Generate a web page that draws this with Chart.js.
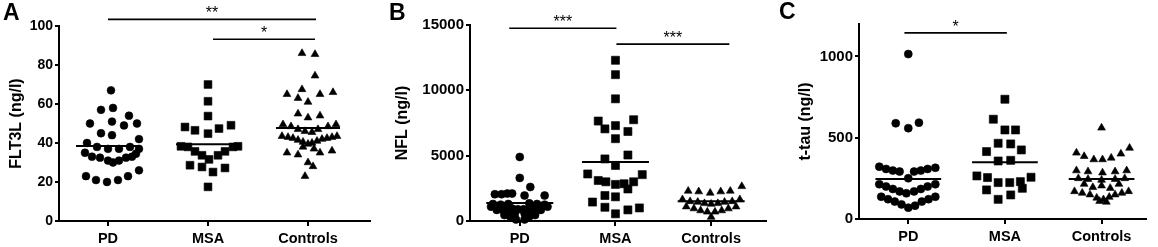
<!DOCTYPE html>
<html><head><meta charset="utf-8">
<script src="https://cdn.jsdelivr.net/npm/chart.js@4.4.0/dist/chart.umd.min.js"></script>
<style>
html,body{margin:0;padding:0;background:#fff;}
#wrap{position:relative;width:1158px;height:247px;overflow:hidden;}
.p{position:absolute;top:0;height:247px;}
canvas{display:block;}
</style></head><body>
<div id="wrap">
<div class="p" style="left:0;width:386px"><canvas id="cA" width="386" height="247"></canvas></div>
<div class="p" style="left:386px;width:386px"><canvas id="cB" width="386" height="247"></canvas></div>
<div class="p" style="left:772px;width:386px"><canvas id="cC" width="386" height="247"></canvas></div>
</div>
<script>
// ---------- data ----------
const categories = ['PD', 'MSA', 'Controls'];

// Panel A: FLT3L (ng/l)
const flt3lPD = [67,57,58,50,51,54,49,50,45,44,42,40, 38,37,37,38,37,35, 33,32.5,31,30,31,32.5,33,34.5, 23,21,20,21,23,26];
const flt3lPDJitter = [0.03,-0.07,0.05,-0.18,0.04,0.21,0.16,0.29,-0.07,0.04,0.31,-0.21, -0.11,0,0.11,0.22,0.31,-0.23, -0.16,-0.08,0,0.05,0.11,0.18,0.24,0.28, -0.22,-0.12,-0.01,0.1,0.2,0.31];
const flt3lMSA = [70,61.4,53.8,48.2,46.5,44.8,47.4,49.1, 38.3,38,35.7,33.7,31.6,33.7,35.7,38,38.3, 28.6,27.7,25.1,27.2,17.5];
const flt3lMSAJitter = [0,0,0,-0.23,-0.13,0,0.11,0.23, -0.27,-0.2,-0.13,-0.06,0.01,0.1,0.17,0.25,0.3, -0.18,-0.06,0.05,0.17,0];
const flt3lCtrl = [86,85.5,74.5,65,67.5,63,65,66,61,55,53,54, 49.5,48.5,47,46,45.5,47,48.5,49.5, 43.5,43,42.5,41.5,40.5,39.5,40,41,42,42.5,43,43.5, 35,34,30,35,36,28,23,38,37];
const flt3lCtrlJitter = [-0.06,0.07,0.07,-0.21,-0.06,-0.1,0.12,0.25,0,-0.1,0,0.12, -0.25,-0.17,-0.1,-0.03,0.04,0.1,0.2,0.28, -0.26,-0.2,-0.15,-0.1,-0.05,0,0.04,0.09,0.14,0.19,0.24,0.29, -0.21,-0.1,0,0.12,0.24,0.05,-0.03,-0.05,0.06];
const flt3lMeans = [38.5, 39.3, 47.7];
const flt3lTicks = [0, 20, 40, 60, 80, 100];

// Panel B: NFL (ng/l)
const nflPD = [4900,3300,2600,2050,2050,2100,2100,1950,1950, 1300,1250,1300,1350,1300,1250, 1100,1050,1000,950,900,900,950,1000,1050,1100, 850,800,750,750,800,850, 600,600,350,350,120,120,450,450];
const nflPDJitter = [0,0,0.11,-0.26,-0.19,-0.13,-0.08,0.05,0.26, -0.28,-0.2,-0.12,0.1,0.18,0.26, -0.3,-0.22,-0.15,-0.08,-0.02,0.04,0.1,0.16,0.22,0.29, -0.24,-0.17,-0.11,0.1,0.16,0.22, -0.05,0.05,-0.1,0.1,-0.04,0.05,-0.16,0.16];
const nflMSA = [12300,11200,9350,7650,7050,7300,7750,6850,6300,4750,5050,4250,3600,3100,3000,2800,2850,2450,3000,3550,1950,1850,1450,1050,550,850,1000];
const nflMSAJitter = [0,0,0,-0.18,-0.11,0,0.19,0.13,0,-0.11,0.13,0,-0.29,-0.18,-0.1,0,0.09,0.13,0.19,0.28,-0.11,0,-0.24,-0.11,0,0.13,0.25];
const nflCtrl = [2300,2250,2150,2250,2300,2650, 1650,1500,1450,1350,1300,1350,1450,1500,1650, 1100,950,800,700,700,800,950,1100, 300];
const nflCtrlJitter = [-0.24,-0.13,-0.01,0.1,0.2,0.32, -0.3,-0.22,-0.14,-0.07,0,0.07,0.14,0.22,0.3, -0.26,-0.18,-0.11,-0.04,0.04,0.11,0.18,0.26, 0];
const nflMeans = [1377, 4514, 1507];
const nflTicks = [0, 5000, 10000, 15000];

// Panel C: t-tau (ng/l)
const ttauPD = [1015,589,559,593, 322,308,298,292,292,298,308,315, 251, 214,200,185,170,158,170,185,200,214, 137,122,107,90,70,82,107,122,137];
const ttauPDJitter = [0,-0.13,0,0.11, -0.3,-0.23,-0.16,-0.09,0.06,0.13,0.2,0.28, 0, -0.3,-0.23,-0.16,-0.09,-0.02,0.06,0.13,0.2,0.28, -0.28,-0.21,-0.14,-0.07,0,0.07,0.14,0.21,0.28];
const ttauMSA = [737,614,548,548,466,462,415,425,357,361,265,255,224,224,230,257,189,179,148,121];
const ttauMSAJitter = [0,-0.12,0,0.11,-0.07,0.06,-0.19,0.17,-0.07,0.06,-0.29,-0.18,-0.07,0.05,0.16,0.27,0.18,-0.19,0.06,-0.07];
const ttauCtrl = [561, 407,386,366,366,376,401,437, 298,292,285,292,298, 250,245,240,245,250, 215,195,205,190,215, 170,160,150,130,120,135,150,160,170, 110,105];
const ttauCtrlJitter = [0, -0.26,-0.18,-0.08,0.01,0.1,0.2,0.29, -0.26,-0.14,0.01,0.14,0.26, -0.24,-0.14,0,0.14,0.24, -0.18,-0.09,0,0.09,0.18, -0.28,-0.2,-0.12,-0.05,0.02,0.08,0.14,0.21,0.28, -0.02,0.05];
const ttauMeans = [246, 350, 246];
const ttauTicks = [0, 500, 1000];

// significance comparisons: [fromCategory, toCategory, yValue, label]
const sigA = [[0, 2.08, 103.4, '**'], [1.05, 2.07, 93.2, '*']];
const sigB = [[-0.11, 1.01, 14750, '***'], [1.01, 2.19, 13540, '***']];
const sigC = [[-0.04, 1.02, 1146, '*']];

// ---------- rendering ----------
const FAM = '"Liberation Sans", Arial, Helvetica, sans-serif';
const STYLES = ['circle', 'rect', 'triangle'];

function makePanel(id, cfg) {
  const datasets = [];
  cfg.groups.forEach((g, i) => {
    datasets.push({
      type: 'scatter',
      data: g.values.map((v, k) => ({x: i + g.jitter[k], y: v})),
      pointStyle: STYLES[i],
      pointRadius: cfg.radius[i],
      backgroundColor: '#000',
      borderColor: '#000',
      borderWidth: 0.6,
      clip: false
    });
  });
  cfg.means.forEach((m, i) => {
    datasets.push({
      type: 'line',
      data: [{x: i - cfg.meanHalf, y: m}, {x: i + cfg.meanHalf, y: m}],
      borderColor: '#000',
      borderWidth: 2,
      pointRadius: 0,
      fill: false
    });
  });
  const sigPlugin = {
    id: 'sig' + id,
    afterDatasetsDraw(chart) {
      const ctx = chart.ctx, xs = chart.scales.x, ys = chart.scales.y;
      ctx.save();
      ctx.strokeStyle = '#000';
      ctx.fillStyle = '#000';
      ctx.lineWidth = 1.7;
      ctx.font = '16px ' + FAM;
      ctx.textAlign = 'center';
      ctx.textBaseline = 'alphabetic';
      cfg.sig.forEach(([a, b, v, lab]) => {
        const x1 = xs.getPixelForValue(a), x2 = xs.getPixelForValue(b), y = ys.getPixelForValue(v);
        ctx.beginPath();
        ctx.moveTo(x1, y);
        ctx.lineTo(x2, y);
        ctx.stroke();
        ctx.fillText(lab, (x1 + x2) / 2, y - 1);
      });
      ctx.restore();
    }
  };
  return new Chart(document.getElementById(id), {
    data: {datasets},
    plugins: [sigPlugin],
    options: {
      responsive: false,
      animation: false,
      events: [],
      layout: {padding: {left: cfg.padLeft, right: cfg.padRight, top: cfg.padTop, bottom: 0}},
      plugins: {
        legend: {display: false},
        tooltip: {enabled: false},
        title: {
          display: true, text: cfg.letter, align: 'start', color: '#000',
          font: {family: FAM, size: 23, weight: 'bold', lineHeight: 1},
          padding: {top: 0, bottom: cfg.titleGap}
        }
      },
      scales: {
        x: {
          type: 'linear', min: cfg.xMin, max: cfg.xMax,
          afterBuildTicks: s => { s.ticks = categories.map((c, i) => ({value: i})); },
          afterFit: s => { s.height = cfg.xH; },
          ticks: {
            callback: v => categories[v], color: '#000', padding: 4, maxRotation: 0,
            font: {family: FAM, size: 14.5, weight: 'bold'}
          },
          grid: {display: true, drawOnChartArea: false, drawTicks: true, tickLength: 5, color: '#000', lineWidth: 2},
          border: {display: true, color: '#000', width: 2}
        },
        y: {
          type: 'linear', min: 0, max: cfg.yMax,
          afterBuildTicks: s => { s.ticks = cfg.ticks.map(v => ({value: v})); },
          afterFit: s => { s.width = cfg.yW; },
          ticks: {
            callback: v => String(v),
            color: '#000', padding: 2, font: {family: FAM, size: cfg.tickSize, weight: 'bold'}
          },
          grid: {display: true, drawOnChartArea: false, drawTicks: true, tickLength: 4, color: '#000', lineWidth: 2},
          border: {display: true, color: '#000', width: 2},
          title: {
            display: true, text: cfg.yTitle, color: '#000',
            font: {family: FAM, size: 16, weight: 'bold'},
            padding: {top: cfg.titlePad, bottom: 0}
          }
        }
      }
    }
  });
}

makePanel('cA', {
  letter: 'A', yTitle: 'FLT3L (ng/l)', yMax: 100, ticks: flt3lTicks, tickSize: 14,
  groups: [{values: flt3lPD, jitter: flt3lPDJitter}, {values: flt3lMSA, jitter: flt3lMSAJitter}, {values: flt3lCtrl, jitter: flt3lCtrlJitter}],
  means: flt3lMeans, sig: sigA, radius: [3.9, 5.5, 4.5], meanHalf: 0.32,
  xMin: -0.49, xMax: 2.62, padLeft: 3, yW: 56, padRight: 16, padTop: 2, titleGap: 1, xH: 26, titlePad: 4.4
});
makePanel('cB', {
  letter: 'B', yTitle: 'NFL (ng/l)', yMax: 15000, ticks: nflTicks, tickSize: 15,
  groups: [{values: nflPD, jitter: nflPDJitter}, {values: nflMSA, jitter: nflMSAJitter}, {values: nflCtrl, jitter: nflCtrlJitter}],
  means: nflMeans, sig: sigB, radius: [4, 5.7, 4.5], meanHalf: 0.35,
  xMin: -0.52, xMax: 2.57, padLeft: 3, yW: 81, padRight: 4, padTop: 2, titleGap: 0, xH: 26, titlePad: 4.4
});
makePanel('cC', {
  letter: 'C', yTitle: 't-tau (ng/l)', yMax: 1200, ticks: ttauTicks, tickSize: 15,
  groups: [{values: ttauPD, jitter: ttauPDJitter}, {values: ttauMSA, jitter: ttauMSAJitter}, {values: ttauCtrl, jitter: ttauCtrlJitter}],
  means: ttauMeans, sig: sigC, radius: [4, 5.7, 4.5], meanHalf: 0.34,
  xMin: -0.51, xMax: 2.46, padLeft: 7, yW: 80, padRight: 12, padTop: 1, titleGap: 0, xH: 28, titlePad: 17.4
});
</script>
</body></html>
